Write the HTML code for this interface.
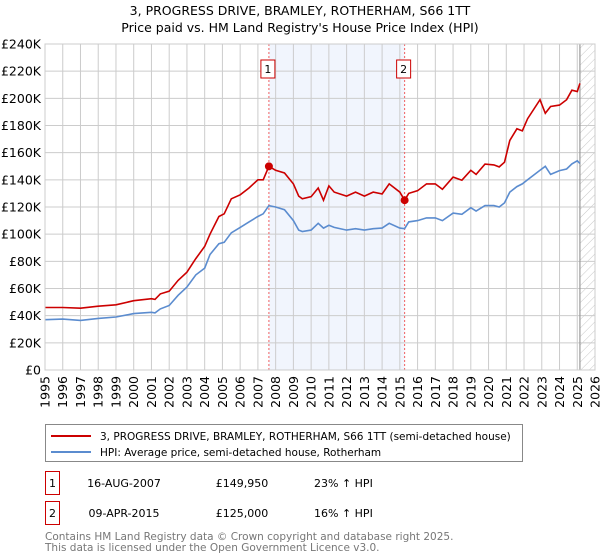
<!DOCTYPE html>
<html><head><meta charset="utf-8"><style>
body{margin:0;background:#fff;font-family:"DejaVu Sans","Liberation Sans",sans-serif;}
#wrap{position:relative;width:600px;height:560px;overflow:hidden}
svg text{font-family:"DejaVu Sans","Liberation Sans",sans-serif}
</style></head><body><div id="wrap">
<svg id="chart" width="600" height="560"></svg>
</div>
<script>
const years=[1995,1996,1997,1998,1999,2000,2001,2001.2,2001.5,2002,2002.5,2003,2003.5,2004,2004.3,2004.8,2005.1,2005.5,2006,2006.5,2007,2007.3,2007.62,2008,2008.5,2009,2009.3,2009.5,2010,2010.4,2010.7,2011,2011.3,2012,2012.5,2013,2013.5,2014,2014.4,2015,2015.27,2015.5,2016,2016.5,2017,2017.4,2018,2018.5,2019,2019.3,2019.8,2020.3,2020.6,2020.9,2021.2,2021.6,2021.9,2022.2,2022.9,2023.2,2023.5,2024,2024.4,2024.7,2025,2025.15];
const hpiValues=[37,37.5,36.5,38,39,41.5,42.5,42,45,47.5,55,61,70,75,85,93,94,101,105,109,113,115,121,120,118,110,103,102,103,108,104.5,106.5,105,103,104,103,104,104.5,108,104.5,104,109,110,112,112,110,115.5,114.6,119.5,117,121,121,120,123,131,135,137,140,147,150,144,146.8,148,151.7,154,152];
const priceValues=[46,46,45.5,47,48,51,52.5,52,56,58,66,72,82,91,100,113,115,126,129,134,140,140,150,147,145,137,128,126,127.6,134,125,135.5,131,128,131,128,131,129.6,137,131,125,130,132,137,137,133,142,139.7,147,144,151.6,151,149.5,153,169,177.6,176,185,199,189,194,195,199,206,205,211];
const yTicks=[0,20,40,60,80,100,120,140,160,180,200,220,240];
const xTicks=[1995,1996,1997,1998,1999,2000,2001,2002,2003,2004,2005,2006,2007,2008,2009,2010,2011,2012,2013,2014,2015,2016,2017,2018,2019,2020,2021,2022,2023,2024,2025,2026];
const sales=[{n:"1",t:2007.62,v:149.95},{n:"2",t:2015.27,v:125}];
const L=45,R=595,T=44,B=370;
const X=t=>L+(t-1995)/(2026-1995)*(R-L);
const Y=v=>B-v/240*(B-T);
const svg=document.getElementById('chart');
const NS='http://www.w3.org/2000/svg';
function mk(tag,attrs,parent){const e=document.createElementNS(NS,tag);for(const k in attrs)e.setAttribute(k,attrs[k]);(parent||svg).appendChild(e);return e;}
function tx(x,y,s,attrs){const e=mk('text',Object.assign({x:x,y:y},attrs||{}));e.textContent=s;return e;}
// title
let t1=tx(300,15,"3, PROGRESS DRIVE, BRAMLEY, ROTHERHAM, S66 1TT",{'text-anchor':'middle','font-size':'12.5'});


let t2=tx(300,32,"Price paid vs. HM Land Registry's House Price Index (HPI)",{'text-anchor':'middle','font-size':'12.5'});


// shaded region
let sh=mk('rect',{x:X(sales[0].t),y:T,width:X(sales[1].t)-X(sales[0].t),height:B-T,fill:'#eef3fc',opacity:'0.8'});


// hatch
const defs=mk('defs',{});
const pat=mk('pattern',{id:'h',width:6,height:6,patternUnits:'userSpaceOnUse',patternTransform:'rotate(45)'},defs);
mk('line',{x1:0,y1:0,x2:0,y2:6,stroke:'#c8c8c8','stroke-width':1},pat);
let hr=mk('rect',{x:X(2025.15),y:T,width:R-X(2025.15),height:B-T,fill:'url(#h)'});


// grid
yTicks.forEach(v=>{
 const g=mk('line',{x1:L,x2:R,y1:Y(v),y2:Y(v),stroke:'#cccccc','stroke-width':1});
 
 
 const l=tx(L-4,Y(v)+4.5,'£'+(v===0?'0':v+'K'),{'text-anchor':'end','font-size':'12.5'});
 
 
});
xTicks.forEach(t=>{
 const g=mk('line',{x1:X(t),x2:X(t),y1:T,y2:B,stroke:'#cccccc','stroke-width':1});
 
 
 const l=tx(0,0,String(t),{'text-anchor':'end','font-size':'12.5',transform:`translate(${X(t)+4.5},${B+6}) rotate(-90)`});
 
 
});
let vl=mk('line',{x1:X(2025.15),x2:X(2025.15),y1:T,y2:B,stroke:'#999','stroke-width':1.2});


// sale lines
sales.forEach(s=>{
 const l=mk('line',{x1:X(s.t),x2:X(s.t),y1:T,y2:B,stroke:'#f06060','stroke-width':1,'stroke-dasharray':'2,2'});
 
 
 const b=mk('rect',{x:X(s.t)-8,y:60,width:14,height:18,fill:'#fff',stroke:'#cc0000','stroke-width':1});
 
 
 tx(X(s.t)-1,73,s.n,{'text-anchor':'middle','font-size':'11'});
});
// series
function path(vals){return vals.map((v,i)=>(i?'L':'M')+X(years[i]).toFixed(1)+','+Y(v).toFixed(1)).join(' ');}
let hp=mk('path',{d:path(hpiValues),fill:'none',stroke:'#5b8ccf','stroke-width':1.6});


let pp=mk('path',{d:path(priceValues),fill:'none',stroke:'#cc0000','stroke-width':1.6});


sales.forEach(s=>{
 const c=mk('circle',{cx:X(s.t),cy:Y(s.v),r:4,fill:'#cc0000'});
 
 
});
let fr=mk('rect',{x:L,y:T,width:R-L,height:B-T,fill:'none',stroke:'#cccccc','stroke-width':1});


// legend
const lg=mk('g',{});


mk('rect',{x:45.5,y:424.5,width:477,height:37,fill:'#fff',stroke:'#888','stroke-width':1},lg);
mk('line',{x1:51,x2:91,y1:436,y2:436,stroke:'#cc0000','stroke-width':2},lg);
mk('line',{x1:51,x2:91,y1:452,y2:452,stroke:'#5b8ccf','stroke-width':2},lg);
let le1=tx(100,440,'3, PROGRESS DRIVE, BRAMLEY, ROTHERHAM, S66 1TT (semi-detached house)',{'font-size':'10.5'});


let le2=tx(100,456,'HPI: Average price, semi-detached house, Rotherham',{'font-size':'10.5'});


// table
const rows=[["1","16-AUG-2007","£149,950","23% ↑ HPI",483],["2","09-APR-2015","£125,000","16% ↑ HPI",513]];
rows.forEach(r=>{
 const b=mk('rect',{x:45.5,y:r[4]-11.5,width:14,height:23,fill:'#fff',stroke:'#cc0000','stroke-width':1});
 
 
 tx(52.5,r[4]+4,r[0],{'text-anchor':'middle','font-size':'11'});
 tx(124,r[4]+4,r[1],{'text-anchor':'middle','font-size':'11'});
 tx(242,r[4]+4,r[2],{'text-anchor':'middle','font-size':'11'});
 tx(314,r[4]+4,r[3],{'font-size':'11'});
});
let f1=tx(45,540,'Contains HM Land Registry data © Crown copyright and database right 2025.',{'font-size':'10.5',fill:'#777'});


let f2=tx(45,551,'This data is licensed under the Open Government Licence v3.0.',{'font-size':'10.5',fill:'#777'});


</script>
</body></html>
